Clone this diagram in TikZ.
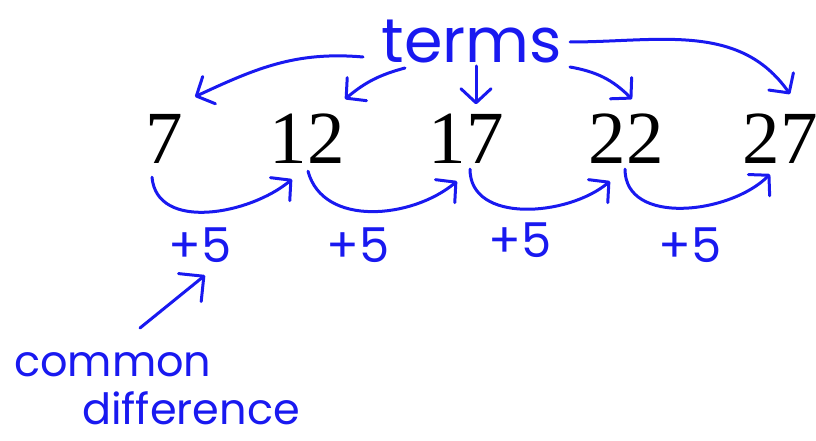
\documentclass[tikz,border=0pt]{standalone}
\usepackage{fontspec}
\setmainfont{Liberation Serif}
\newfontfamily\handfont{Poppins}
\usepackage{xcolor}
\definecolor{penblue}{RGB}{25,25,240}
\usetikzlibrary{arrows.meta, positioning}

\begin{document}
\begin{tikzpicture}[x=1pt, y=-1pt,
  hand/.style={draw=penblue, line width=3pt, line cap=round, line join=round},
  barb/.style={-{Straight Barb[length=14pt, width=30pt, round]}},
  num/.style={font=\fontsize{75}{75}\selectfont, inner sep=0pt, anchor=base},
  pen/.style={font=\handfont\fontsize{48}{48}\selectfont, text=penblue, inner sep=0pt, anchor=base}]
  \useasboundingbox (0,0) rectangle (816,441);

  % The sequence
  \node[num] (n1) at (164,164) {7};
  \node[num] (n2) at (307,164) {12};
  \node[num] (n3) at (466,164) {17};
  \node[num] (n4) at (626,164) {22};
  \node[num] (n5) at (780,164) {27};

  % Label for the terms
  \node[pen, font=\handfont\fontsize{62}{62}\selectfont] (terms) at (472,63) {terms};

  \draw[hand, barb] ([xshift=-109pt,yshift=6pt]terms.base) to[out=175, in=25] ([xshift=31pt,yshift=18pt]n1.north);
  \draw[hand, barb] ([xshift=-67pt,yshift=-5pt]terms.base) to[out=195, in=40] ([xshift=38pt,yshift=15pt]n2.north);
  \draw[hand, barb] ([xshift=4pt,yshift=-3pt]terms.base) -- ([xshift=10pt,yshift=10pt]n3.north);
  \draw[hand, barb] ([xshift=98pt,yshift=-4pt]terms.base) to[out=-10, in=135] ([xshift=6pt,yshift=15pt]n4.north);
  \draw[hand, barb] ([xshift=98pt,yshift=21pt]terms.base) to[out=0, in=125] ([xshift=10pt,yshift=20pt]n5.north);

  % Steps of +5 between neighbours
  \draw[hand, barb] ([xshift=-12pt,yshift=-13pt]n1.south) to[out=-85, in=-140] ([xshift=-15pt,yshift=-15pt]n2.south);
  \draw[hand, barb] ([xshift=1pt,yshift=-7pt]n2.south) to[out=-75, in=-140] ([xshift=-9pt,yshift=-17pt]n3.south);
  \draw[hand, barb] ([xshift=4pt,yshift=-5pt]n3.south) to[out=-90, in=-140] ([xshift=-16pt,yshift=-17pt]n4.south);
  \draw[hand, barb] ([xshift=-1pt,yshift=-5pt]n4.south) to[out=-90, in=-135] ([xshift=-10pt,yshift=-10pt]n5.south);

  \node[pen] (p1) at (200,262) {+5};
  \node[pen] (p2) at (358,262) {+5};
  \node[pen] (p3) at (520,257) {+5};
  \node[pen] (p4) at (690,262) {+5};

  % Common difference
  \node[pen, font=\handfont\fontsize{43}{43}\selectfont, anchor=base west] (common) at (14,376) {common};
  \node[pen, font=\handfont\fontsize{43}{43}\selectfont, anchor=base west] (diff) at (82,424) {difference};
  \draw[hand, -{Straight Barb[length=18pt, width=36pt, round]}] ([xshift=126pt,yshift=48pt]common.base west) -- ([xshift=5pt,yshift=-13pt]p1.south);
\end{tikzpicture}
\end{document}
